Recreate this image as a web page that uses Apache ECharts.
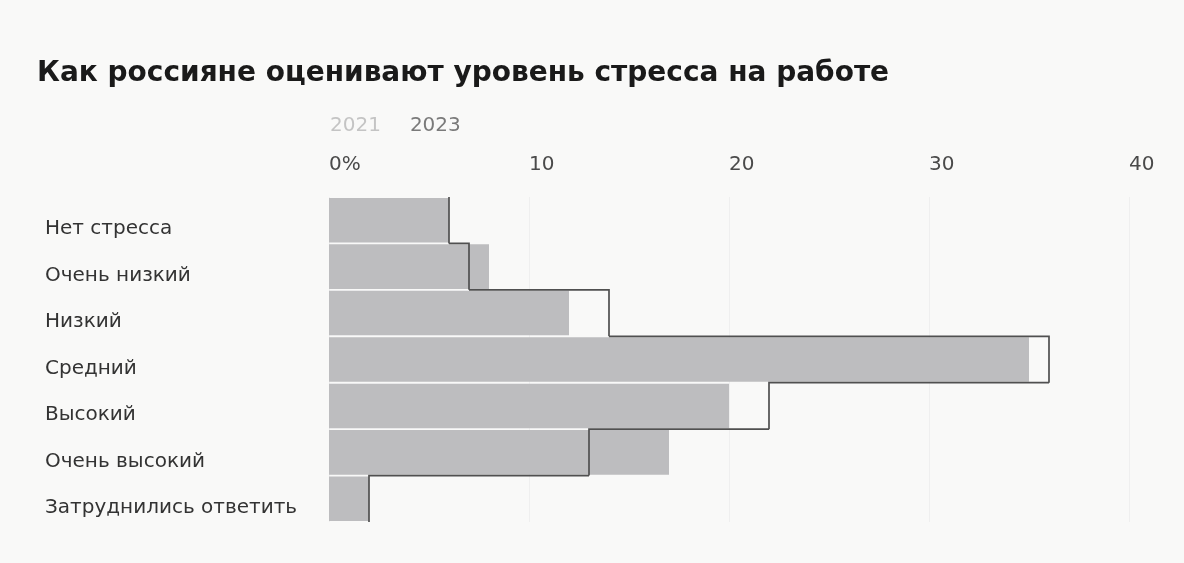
<!DOCTYPE html>
<html><head><meta charset="utf-8">
<script src="https://cdn.jsdelivr.net/npm/echarts@6/dist/echarts.min.js"></script>
<style>html,body{margin:0;padding:0;background:#f9f9f8;}#c{width:1184px;height:563px;}</style>
</head><body><div id="c"></div>
<script>
const categories = ['Нет стресса','Очень низкий','Низкий','Средний','Высокий','Очень высокий','Затруднились ответить'];
const values2021 = [6, 7, 14, 36, 22, 13, 2];
const values2023 = [6, 8, 12, 35, 20, 17, 2];
const xTicks = [0, 10, 20, 30, 40];

const FONT = '"DejaVu Sans", sans-serif';
const chart = echarts.init(document.getElementById('c'));
const stepData = values2021.map((v, i) => [v, i, i > 0 ? values2021[i - 1] : v]);
chart.setOption({
  backgroundColor: '#f9f9f8',
  animation: false,
  title: {
    text: 'Как россияне оценивают уровень стресса на работе',
    left: 32, top: 55,
    textStyle: { fontFamily: FONT, fontWeight: 'bold', fontSize: 28, color: '#1a1a1a' }
  },
  legend: {
    left: 320, top: 111, itemGap: 24, itemWidth: 0, itemHeight: 0,
    selectedMode: false,
    data: [
      { name: '2021', icon: 'none', textStyle: { color: '#c4c4c4' } },
      { name: '2023', icon: 'none', textStyle: { color: '#7a7a7a' } }
    ],
    textStyle: { fontFamily: FONT, fontSize: 20, padding: 0 }
  },
  grid: { left: 329, right: 55, top: 197, bottom: 41, containLabel: false },
  xAxis: {
    type: 'value', position: 'top', min: xTicks[0], max: xTicks[xTicks.length - 1], interval: 10,
    axisLine: { show: false }, axisTick: { show: false },
    splitLine: { show: true, lineStyle: { color: '#efefef', width: 1 } },
    axisLabel: {
      align: 'left', margin: 22, fontFamily: FONT, fontSize: 20, color: '#4a4a4a',
      formatter: v => v === 0 ? '0%' : String(v)
    }
  },
  yAxis: {
    type: 'category', data: categories, inverse: true,
    axisLine: { show: false }, axisTick: { show: false },
    axisLabel: {
      align: 'left', margin: 284, fontFamily: FONT, fontSize: 20, color: '#333',
      verticalAlign: 'top', lineHeight: 18
    }
  },
  series: [
    {
      name: '2023', type: 'bar', data: values2023, barCategoryGap: '4%',
      itemStyle: { color: '#bdbdbf' }, z: 2
    },
    {
      name: '2021', type: 'custom', data: stepData, z: 3,
      encode: { x: 0, y: 1 },
      renderItem: (params, api) => {
        const v = api.value(0), idx = api.value(1), prev = api.value(2);
        const c = api.coord([v, idx]);
        const h = api.size([0, 1])[1];
        const top = c[1] - h / 2, bot = c[1] + h / 2;
        const p = api.coord([prev, idx]);
        const pts = idx > 0 ? [[p[0], top], [c[0], top], [c[0], bot]] : [[c[0], top], [c[0], bot]];
        return {
          type: 'polyline',
          shape: { points: pts },
          style: { stroke: '#505050', lineWidth: 1.7, fill: null }
        };
      }
    }
  ]
});
</script></body></html>
